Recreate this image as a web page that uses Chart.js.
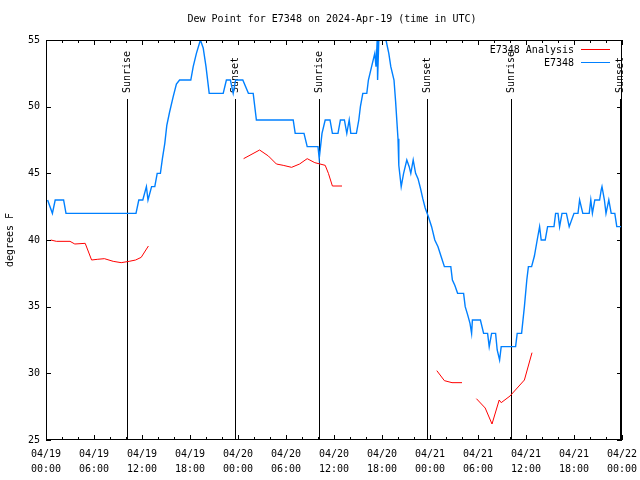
<!DOCTYPE html>
<html>
<head>
<meta charset="utf-8">
<script src="https://cdn.jsdelivr.net/npm/chart.js@4"></script>
<style>
  html, body { margin: 0; padding: 0; background: #fff; }
</style>
</head>
<body>
<canvas id="myChart" width="640" height="480"></canvas>
<script>
// hours since 04/19 00:00 UTC
const obsHours = [0.2, 0.8, 1.15, 2.2, 2.5, 11.25, 11.6, 12.1, 12.55, 12.75, 13.2, 13.6, 13.9, 14.3, 14.55, 14.85, 15.1, 15.45, 15.9, 16.3, 16.7, 18.1, 18.4, 18.8, 19.3, 19.65, 20.0, 20.4, 22.15, 22.55, 23.05, 23.4, 23.7, 24.6, 25.3, 25.9, 26.3, 30.9, 31.15, 32.25, 32.65, 34.0, 34.15, 34.5, 34.9, 35.5, 35.8, 36.5, 36.8, 37.3, 37.6, 37.9, 38.1, 38.8, 39.1, 39.3, 39.6, 40.1, 40.3, 40.7, 41.1, 41.25, 41.4, 41.45, 41.6, 42.5, 42.85, 43.1, 43.5, 43.7, 44.0, 44.1, 44.4, 44.7, 45.1, 45.4, 45.6, 45.9, 46.2, 46.5, 46.8, 47.1, 47.4, 47.8, 48.2, 48.6, 49.0, 49.4, 49.8, 50.6, 50.8, 51.1, 51.45, 52.2, 52.4, 52.7, 53.0, 53.2, 53.3, 54.3, 54.7, 55.2, 55.4, 55.7, 56.2, 56.4, 56.7, 56.9, 58.7, 58.9, 59.45, 59.8, 60.1, 60.3, 60.7, 61.05, 61.4, 61.7, 61.9, 62.4, 62.7, 63.5, 63.7, 64.0, 64.2, 64.5, 65.05, 65.4, 66.0, 66.5, 66.7, 67.1, 67.9, 68.1, 68.3, 68.6, 69.2, 69.4, 69.5, 69.8, 70.0, 70.35, 70.65, 71.1, 71.35, 72];
const obsValues = [43, 42, 43, 43, 42, 42, 43, 43, 44, 43, 44, 44, 45, 45, 46.1, 47.25, 48.6, 49.6, 50.75, 51.7, 52, 52, 53, 54, 55, 54.4, 53, 51, 51, 52, 52, 51, 52, 52, 51, 51, 49, 49, 48, 48, 47, 47, 46.1, 48, 49, 49, 48, 48, 49, 49, 48, 49, 48, 48, 49, 50, 51, 51, 52, 53, 54, 53, 55, 52, 55, 55, 54, 53, 52, 50.4, 47.6, 45.6, 44, 45, 46, 45.5, 45, 46, 45, 44.6, 43.9, 43.1, 42.4, 41.75, 41, 40, 39.5, 38.75, 38, 38, 37, 36.6, 36, 36, 35, 34.4, 33.75, 33, 34, 34, 33, 33, 32, 33, 33, 31.75, 31, 32, 32, 33, 33, 35, 37, 38, 38, 38.8, 40, 41, 40, 40, 41, 41, 42, 42, 41, 42, 42, 41, 42, 42, 43, 42, 42, 43, 42, 43, 43, 43.75, 44, 43, 42, 43, 42, 42, 41, 41];

const anaHours = [0.6, 1.3, 3.0, 3.6, 4.9, 5.7, 6.4, 7.3, 8.4, 9.4, 10.4, 11.2, 11.9, 12.8, 18, 24.7, 26.7, 27.8, 28.8, 29.65, 30.7, 31.7, 32.65, 33.6, 34.9, 35.3, 35.8, 37.0, 43, 48.85, 49.8, 50.75, 52.0, 53, 53.8, 54.9, 55.75, 56.65, 56.9, 58.0, 58.9, 59.8, 60.75];
const anaValues = [40.0, 39.9, 39.9, 39.7, 39.75, 38.5, 38.55, 38.6, 38.4, 38.3, 38.4, 38.5, 38.7, 39.55, null, 46.1, 46.75, 46.3, 45.7, 45.6, 45.45, 45.7, 46.1, 45.8, 45.6, 45.0, 44.05, 44.05, null, 30.2, 29.45, 29.3, 29.3, null, 28.1, 27.4, 26.2, 28.0, 27.8, 28.3, 28.9, 29.5, 31.55];

const sunHours = [10.1, 23.63, 34.15, 47.68, 58.1, 71.69];
const sunLabels = ['Sunrise', 'Sunset', 'Sunrise', 'Sunset', 'Sunrise', 'Sunset'];

const tickDates = ['04/19', '04/19', '04/19', '04/19', '04/20', '04/20', '04/20', '04/20', '04/21', '04/21', '04/21', '04/21', '04/22'];
const tickTimes = ['00:00', '06:00', '12:00', '18:00', '00:00', '06:00', '12:00', '18:00', '00:00', '06:00', '12:00', '18:00', '00:00'];

const seriesNames = ['E7348 Analysis', 'E7348'];
const seriesColors = ['#ff0000', '#0080ff'];

const FONT = 'DejaVu Sans Mono';

const decor = {
  id: 'decor',
  beforeDatasetsDraw(chart) {
    const ctx = chart.ctx, xs = chart.scales.x, a = chart.chartArea;
    ctx.save();
    ctx.strokeStyle = '#000';
    ctx.lineWidth = 1;
    ctx.fillStyle = '#000';
    ctx.font = '10px "' + FONT + '"';
    sunHours.forEach((h, i) => {
      const x = Math.round(xs.getPixelForValue(h)) + 0.5;
      ctx.beginPath();
      ctx.moveTo(x, 99);
      ctx.lineTo(x, a.bottom);
      ctx.stroke();
      ctx.save();
      ctx.translate(x, 93);
      ctx.rotate(-Math.PI / 2);
      ctx.textAlign = 'left';
      ctx.textBaseline = 'middle';
      ctx.fillText(sunLabels[i], 0, 0);
      ctx.restore();
    });
    ctx.restore();
  },
  afterDatasetsDraw(chart) {
    const ctx = chart.ctx, xs = chart.scales.x, ys = chart.scales.y, a = chart.chartArea;
    ctx.save();
    ctx.strokeStyle = '#000';
    ctx.lineWidth = 1;
    ctx.strokeRect(a.left + 0.5, a.top + 0.5, a.right - a.left - 1, a.bottom - a.top - 1);
    ctx.beginPath();
    for (let h = 0; h <= 72; h += 2) {
      const x = Math.round(xs.getPixelForValue(h)) + 0.5;
      const len = h % 6 === 0 ? 5 : 3;
      ctx.moveTo(x, a.bottom); ctx.lineTo(x, a.bottom - len);
      ctx.moveTo(x, a.top); ctx.lineTo(x, a.top + len);
    }
    for (let v = 25; v <= 55; v += 5) {
      const y = Math.round(ys.getPixelForValue(v)) + 0.5;
      ctx.moveTo(a.left, y); ctx.lineTo(a.left + 5, y);
      ctx.moveTo(a.right, y); ctx.lineTo(a.right - 5, y);
    }
    ctx.stroke();
    ctx.restore();
  },
  afterDraw(chart) {
    const ctx = chart.ctx;
    ctx.save();
    ctx.fillStyle = '#000';
    ctx.font = '10px "' + FONT + '"';
    ctx.textAlign = 'center';
    ctx.textBaseline = 'middle';
    ctx.fillText('Dew Point for E7348 on 2024-Apr-19 (time in UTC)', 332, 19);
    ctx.textAlign = 'right';
    seriesNames.forEach((name, i) => {
      const y = 50 + i * 13;
      ctx.fillStyle = '#000';
      ctx.fillText(name, 574, y);
      ctx.strokeStyle = seriesColors[i];
      ctx.lineWidth = 1;
      ctx.beginPath();
      ctx.moveTo(581, y - 0.5);
      ctx.lineTo(610, y - 0.5);
      ctx.stroke();
    });
    ctx.restore();
  }
};

new Chart(document.getElementById('myChart'), {
  type: 'line',
  data: {
    datasets: [
      {
        label: seriesNames[0],
        data: anaHours.map((h, i) => ({ x: h, y: anaValues[i] })),
        borderColor: seriesColors[0],
        borderWidth: 1,
        pointRadius: 0,
        tension: 0,
        spanGaps: false,
        fill: false
      },
      {
        label: seriesNames[1],
        data: obsHours.map((h, i) => ({ x: h, y: obsValues[i] })),
        borderColor: seriesColors[1],
        borderWidth: 1.4,
        pointRadius: 0,
        tension: 0,
        fill: false
      }
    ]
  },
  options: {
    responsive: false,
    devicePixelRatio: 1,
    animation: false,
    events: [],
    layout: { padding: { top: 40, right: 18, left: 0, bottom: 0 } },
    plugins: { legend: { display: false }, title: { display: false }, tooltip: { enabled: false } },
    scales: {
      x: {
        type: 'linear',
        min: 0,
        max: 72,
        afterFit: s => { s.height = 40; s.paddingLeft = 0; s.paddingRight = 0; },
        grid: { display: false, drawTicks: false },
        border: { display: false },
        ticks: {
          stepSize: 2,
          autoSkip: false,
          maxRotation: 0,
          padding: 7,
          color: '#000',
          font: { family: FONT, size: 10, lineHeight: 1.5 },
          callback: v => (v % 6 === 0 ? [tickDates[v / 6], tickTimes[v / 6]] : '')
        }
      },
      y: {
        min: 25,
        max: 55,
        afterFit: s => { s.width = 46; s.paddingTop = 0; s.paddingBottom = 0; },
        grid: { display: false, drawTicks: false },
        border: { display: false },
        title: { display: true, text: 'degrees F', color: '#000', font: { family: FONT, size: 10 }, padding: { top: 4, bottom: 0 } },
        ticks: {
          stepSize: 5,
          padding: 6,
          color: '#000',
          font: { family: FONT, size: 10 }
        }
      }
    }
  },
  plugins: [decor]
});
</script>
</body>
</html>
